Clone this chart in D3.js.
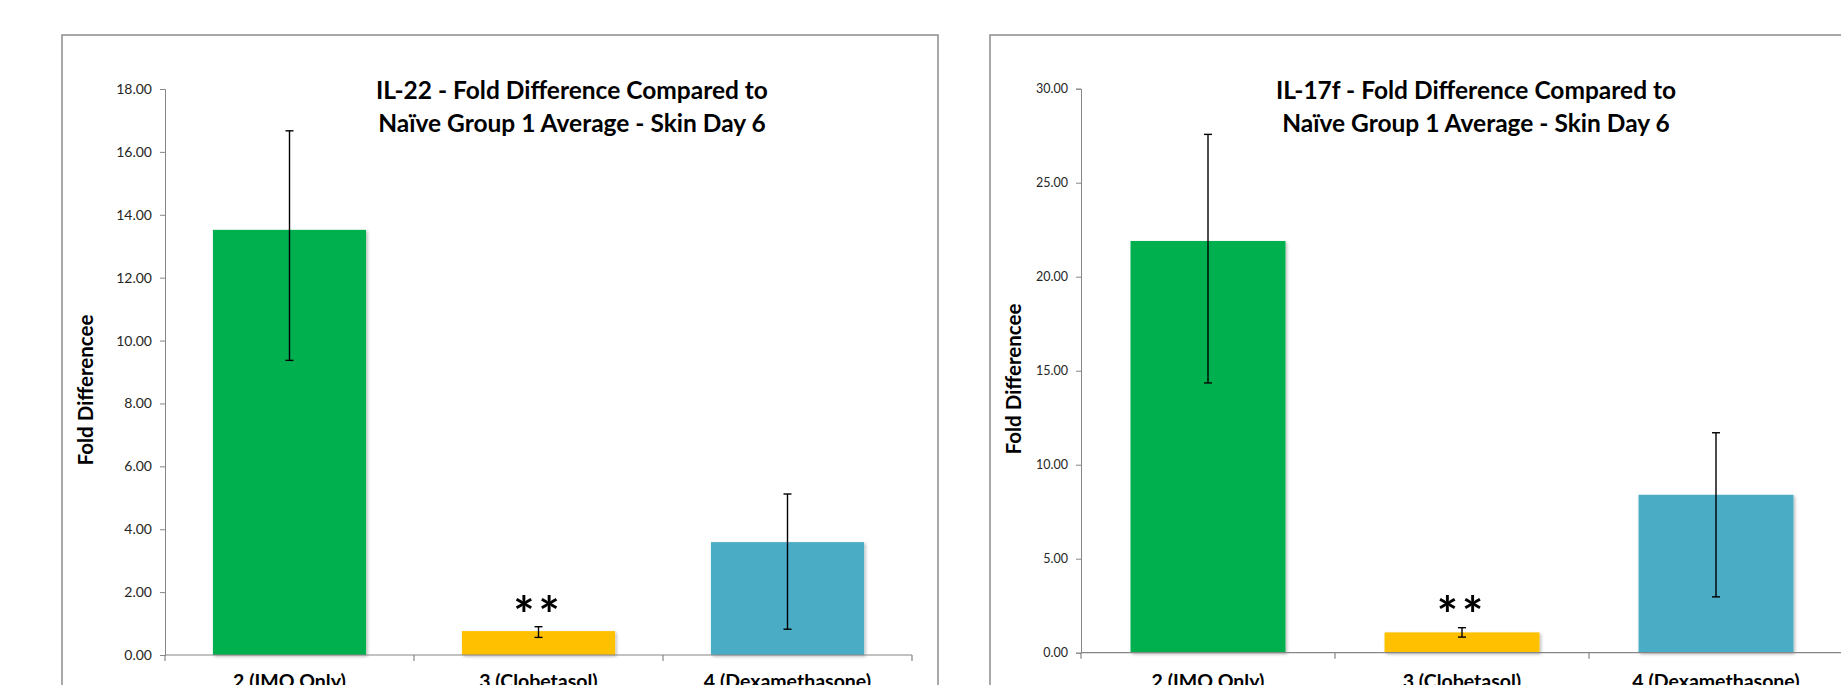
<!DOCTYPE html>
<html>
<head>
<meta charset="utf-8">
<script src="https://cdn.jsdelivr.net/npm/d3@7"></script>
<style>
  html, body { margin: 0; padding: 0; background: #ffffff; overflow: hidden; }
  svg { display: block; }
  text { font-family: Lato, "Open Sans", "DejaVu Sans", sans-serif; }
</style>
</head>
<body>
<svg id="chart" width="1841" height="685"></svg>
<script>
// Treatment groups shared by both panels
const categories = ["2 (IMQ Only)", "3 (Clobetasol)", "4 (Dexamethasone)"];
const barColors = ["#00B050", "#FFC000", "#4BACC6"];
const significance = ["", "**", ""];

// IL-22 fold difference (mean, error bar low / high)
const il22Mean = [13.52, 0.76, 3.59];
const il22Low  = [9.37, 0.56, 0.82];
const il22High = [16.67, 0.90, 5.12];
const il22Ticks = [0, 2, 4, 6, 8, 10, 12, 14, 16, 18];
const il22Title = ["IL-22  - Fold Difference Compared to", "Naïve Group 1 Average - Skin Day 6"];

// IL-17f fold difference (mean, error bar low / high)
const il17fMean = [21.9, 1.08, 8.4];
const il17fLow  = [14.35, 0.83, 2.97];
const il17fHigh = [27.57, 1.33, 11.7];
const il17fTicks = [0, 5, 10, 15, 20, 25, 30];
const il17fTitle = ["IL-17f - Fold Difference Compared to", "Naïve Group 1 Average - Skin Day 6"];

const yAxisLabel = "Fold Differencee";

const svg = d3.select("#chart");

// soft shadow under the bars
const defs = svg.append("defs");
const f = defs.append("filter").attr("id", "barShadow")
  .attr("x", "-10%").attr("y", "-10%").attr("width", "130%").attr("height", "130%");
f.append("feDropShadow").attr("dx", 1.5).attr("dy", 1.5)
  .attr("stdDeviation", 1.6).attr("flood-color", "#000").attr("flood-opacity", 0.28);

function drawPanel(opt) {
  const g = svg.append("g");

  // chart frame
  g.append("rect")
    .attr("x", opt.frame.x).attr("y", opt.frame.y)
    .attr("width", opt.frame.w).attr("height", opt.frame.h)
    .attr("fill", "none").attr("stroke", "#8c8c8c").attr("stroke-width", 1.5);

  const x = d3.scaleBand().domain(categories)
    .range([opt.plot.x, opt.plot.x + opt.plot.w])
    .paddingInner(opt.gap).paddingOuter(opt.gap / 2);
  const y = d3.scaleLinear().domain([0, d3.max(opt.ticks)])
    .range([opt.plot.y0, opt.plot.yTop]);

  // y axis
  const yAxis = g.append("g")
    .attr("transform", `translate(${opt.plot.x},0)`)
    .call(d3.axisLeft(y).tickValues(opt.ticks).tickFormat(d3.format(".2f"))
      .tickSize(5).tickPadding(8));
  yAxis.select(".domain").attr("stroke", "#868686");
  yAxis.selectAll(".tick line").attr("stroke", "#868686");
  yAxis.selectAll(".tick text")
    .attr("fill", "#262626")
    .style("font-size", opt.tickFont + "px")
    .style("font-family", "Lato, 'Open Sans', sans-serif");

  // bars
  const data = categories.map((c, i) => ({
    c, v: opt.mean[i], lo: opt.low[i], hi: opt.high[i], color: barColors[i], sig: significance[i]
  }));

  g.selectAll("rect.bar").data(data).enter().append("rect")
    .attr("class", "bar")
    .attr("x", d => x(d.c))
    .attr("width", x.bandwidth())
    .attr("y", d => y(d.v))
    .attr("height", d => y(0) - y(d.v))
    .attr("fill", d => d.color)
    .attr("filter", "url(#barShadow)");

  // x axis with category boundary ticks
  const xAxisG = g.append("g");
  xAxisG.append("line")
    .attr("x1", opt.plot.x).attr("x2", opt.plot.x + opt.plot.w)
    .attr("y1", y(0)).attr("y2", y(0))
    .attr("stroke", "#868686").attr("stroke-width", 1.2);
  const step = x.step();
  const bounds = d3.range(categories.length + 1).map(i => opt.plot.x + i * step);
  xAxisG.selectAll("line.bound").data(bounds).enter().append("line")
    .attr("class", "bound")
    .attr("x1", d => d).attr("x2", d => d)
    .attr("y1", y(0)).attr("y2", y(0) + 6)
    .attr("stroke", "#868686").attr("stroke-width", 1.2);

  // category labels
  g.selectAll("text.cat").data(data).enter().append("text")
    .attr("class", "cat")
    .attr("x", d => x(d.c) + x.bandwidth() / 2)
    .attr("y", opt.catY)
    .attr("text-anchor", "middle")
    .style("font-size", "19.5px").style("font-weight", 700)
    .attr("fill", "#000")
    .text(d => d.c);

  // error bars
  const eb = g.selectAll("g.err").data(data).enter().append("g").attr("class", "err");
  const cx = d => x(d.c) + x.bandwidth() / 2;
  eb.append("line")
    .attr("x1", cx).attr("x2", cx)
    .attr("y1", d => y(d.lo)).attr("y2", d => y(d.hi))
    .attr("stroke", "#000").attr("stroke-width", 1.4);
  eb.append("line")
    .attr("x1", d => cx(d) - 4).attr("x2", d => cx(d) + 4)
    .attr("y1", d => y(d.hi)).attr("y2", d => y(d.hi))
    .attr("stroke", "#000").attr("stroke-width", 1.4);
  eb.append("line")
    .attr("x1", d => cx(d) - 4).attr("x2", d => cx(d) + 4)
    .attr("y1", d => y(d.lo)).attr("y2", d => y(d.lo))
    .attr("stroke", "#000").attr("stroke-width", 1.4);

  // significance markers
  g.selectAll("text.sig").data(data.filter(d => d.sig)).enter().append("text")
    .attr("class", "sig")
    .attr("x", cx)
    .attr("y", opt.sigY)
    .attr("text-anchor", "middle")
    .style("font-size", "50px").style("font-weight", 700)
    .style("letter-spacing", "4px")
    .attr("fill", "#000")
    .text(d => d.sig);

  // title
  g.selectAll("text.title").data(opt.title).enter().append("text")
    .attr("class", "title")
    .attr("x", opt.titleX)
    .attr("y", (d, i) => opt.titleY + i * 33)
    .attr("text-anchor", "middle")
    .style("font-size", "24.5px").style("font-weight", 700)
    .attr("fill", "#000")
    .text(d => d);

  // y axis title
  g.append("text")
    .attr("transform", `translate(${opt.yLabelX},${opt.yLabelY}) rotate(-90)`)
    .attr("text-anchor", "middle")
    .attr("dominant-baseline", "central")
    .style("font-size", "20.5px").style("font-weight", 700)
    .attr("fill", "#000")
    .text(yAxisLabel);
}

drawPanel({
  frame: { x: 62, y: 35, w: 876, h: 700 },
  plot: { x: 165, w: 747, y0: 655, yTop: 89 },
  gap: 0.385,
  ticks: il22Ticks, mean: il22Mean, low: il22Low, high: il22High,
  title: il22Title, titleX: 572, titleY: 99,
  yLabelX: 85, yLabelY: 390,
  tickFont: 14, catY: 688, sigY: 633
});

drawPanel({
  frame: { x: 990, y: 35, w: 900, h: 700 },
  plot: { x: 1081, w: 762, y0: 652.7, yTop: 88.7 },
  gap: 0.39,
  ticks: il17fTicks, mean: il17fMean, low: il17fLow, high: il17fHigh,
  title: il17fTitle, titleX: 1476, titleY: 99,
  yLabelX: 1013, yLabelY: 379,
  tickFont: 12.5, catY: 688, sigY: 633
});
</script>
</body>
</html>
